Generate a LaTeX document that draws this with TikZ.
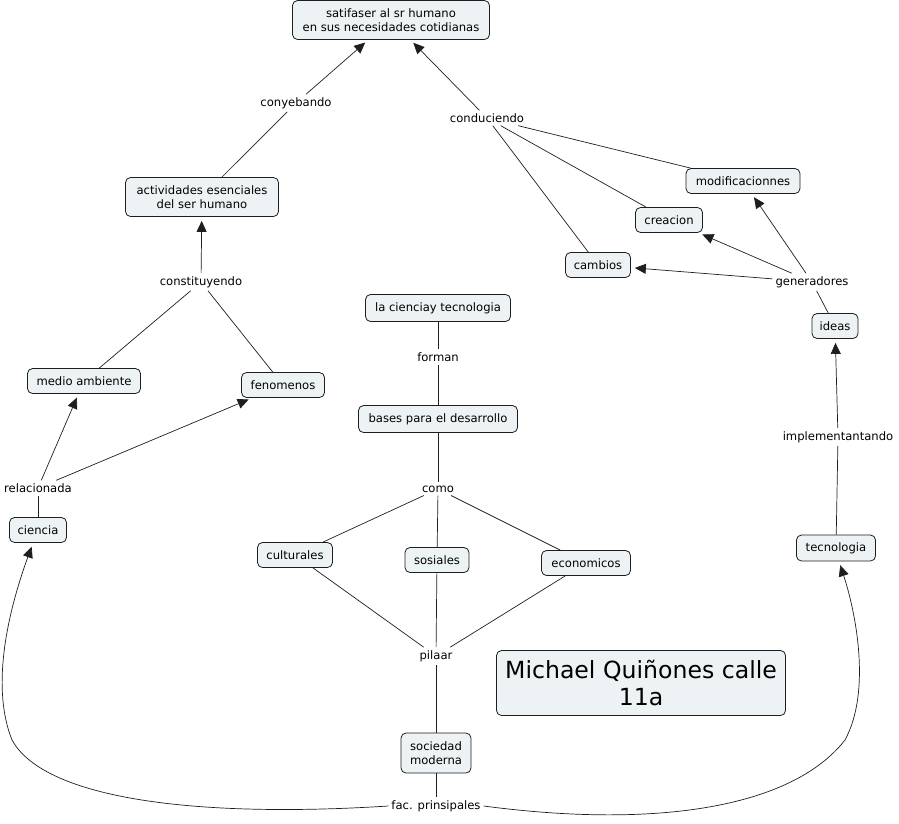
\documentclass[tikz,border=0pt]{standalone}
\usepackage{fontspec}
\setmainfont{DejaVu Sans}
\usetikzlibrary{arrows.meta}
\definecolor{boxfill}{RGB}{237,243,245}
\definecolor{edge}{RGB}{30,30,30}
\begin{document}
\begin{tikzpicture}[x=1pt,y=-1pt,
  cbox/.style={draw=edge, fill=boxfill, rounded corners=5pt, align=center,
    font=\fontsize{11.6}{13.5}\selectfont, inner xsep=3pt, inner ysep=2pt,
    minimum height=25pt, line width=0.8pt},
  lbl/.style={font=\fontsize{11.6}{13.5}\selectfont, inner sep=3pt, fill=white},
  ln/.style={draw=edge, line width=0.7pt},
  arr/.style={ln, -{Triangle[length=11pt,width=10pt]}, shorten >=4pt}]
\useasboundingbox (0,0) rectangle (899,823);

% boxes
\node[cbox, minimum width=197pt, minimum height=39pt] (sat) at (391,20) {satifaser al sr humano\\en sus necesidades cotidianas};
\node[cbox, minimum width=153pt, minimum height=39pt] (act) at (202,197) {actividades esenciales\\del ser humano};
\node[cbox, minimum width=113pt] (med) at (84,381) {medio ambiente};
\node[cbox, minimum width=83pt] (fen) at (283,385) {fenomenos};
\node[cbox, minimum width=57pt] (cie) at (38,530) {ciencia};
\node[cbox, minimum width=145pt, minimum height=27pt] (lct) at (438,308) {la cienciay tecnologia};
\node[cbox, minimum width=159pt, minimum height=27pt] (bas) at (438,419) {bases para el desarrollo};
\node[cbox, minimum width=75pt] (cul) at (295,555) {culturales};
\node[cbox, minimum width=64pt] (sos) at (437,560) {sosiales};
\node[cbox, minimum width=89pt] (eco) at (586,563) {economicos};
\node[cbox, minimum width=70pt, minimum height=40pt] (soc) at (436,753) {sociedad\\moderna};
\node[cbox, minimum width=289pt, minimum height=65pt, font=\fontsize{23.6}{27}\selectfont] (mq) at (641,683) {Michael Quiñones calle\\11a};
\node[cbox, minimum width=79pt, minimum height=26pt] (tec) at (836,548) {tecnologia};
\node[cbox, minimum width=46pt] (ide) at (835,326) {ideas};
\node[cbox, minimum width=65pt] (cam) at (598,265) {cambios};
\node[cbox, minimum width=67pt] (cre) at (669,220) {creacion};
\node[cbox, minimum width=114pt] (mod) at (743,181) {modificacionnes};

% linking phrases
\node[lbl] (cony) at (296,103) {conyebando};
\node[lbl] (cons) at (201,282) {constituyendo};
\node[lbl] (rel) at (38,488) {relacionada};
\node[lbl] (cond) at (487,118) {conduciendo};
\node[lbl] (gen) at (812,282) {generadores};
\node[lbl] (imp) at (838,437) {implementantando};
\node[lbl] (for) at (438,357) {forman};
\node[lbl] (com) at (438,489) {como};
\node[lbl] (pil) at (436,656) {pilaar};
\node[lbl] (fac) at (436,806) {fac. prinsipales};

% connectors
\draw[ln] (act) -- (cony);
\draw[arr] (cony) -- (sat);
\draw[arr] (cons) -- (act);
\draw[ln] (med) -- (cons);
\draw[ln] (fen) -- (cons);
\draw[ln] (cie) -- (rel);
\draw[arr] (rel) -- (med);
\draw[arr] (rel) -- (fen);
\draw[arr] (cond) -- (sat);
\draw[ln] (mod) -- (cond);
\draw[ln] (cre) -- (cond);
\draw[ln] (cam) -- (cond);
\draw[ln] (ide) -- (gen);
\draw[arr] (gen) -- (mod);
\draw[arr] (gen) -- (cre);
\draw[arr] (gen) -- (cam);
\draw[ln] (tec) -- (imp);
\draw[arr] (imp) -- (ide);
\draw[ln] (lct) -- (for);
\draw[ln] (for) -- (bas);
\draw[ln] (bas) -- (com);
\draw[ln] (com) -- (cul);
\draw[ln] (com) -- (sos);
\draw[ln] (com) -- (eco);
\draw[ln] (cul) -- (pil);
\draw[ln] (sos) -- (pil);
\draw[ln] (eco) -- (pil);
\draw[ln] (pil) -- (soc);
\draw[ln] (soc) -- (fac);
\draw[arr] (fac.west) .. controls (200,818) and (45,800) .. (12,740)
  .. controls (-8,690) and (5,620) .. ([xshift=-5pt]cie.south);
\draw[arr] (fac.east) .. controls (650,828) and (790,810) .. (845,740)
  .. controls (872,690) and (855,610) .. ([xshift=3pt]tec.south);
\end{tikzpicture}
\end{document}
